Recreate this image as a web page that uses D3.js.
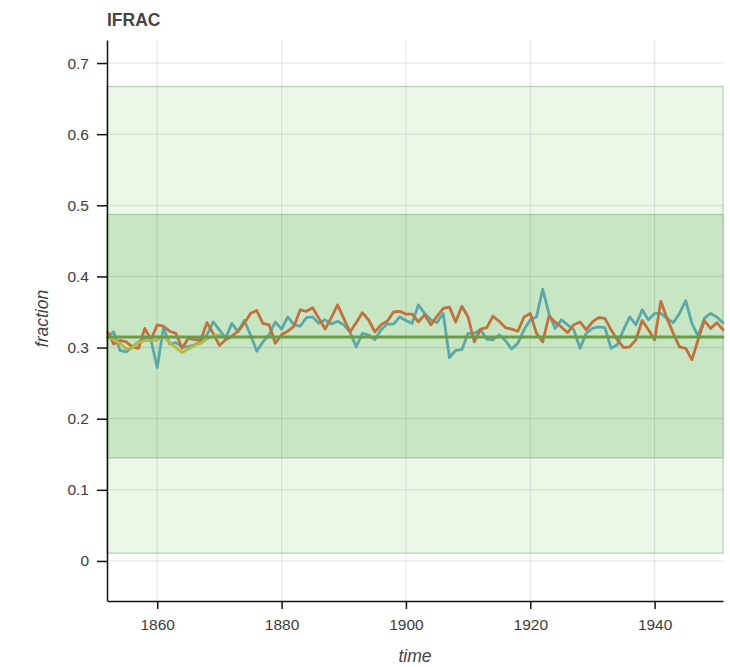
<!DOCTYPE html>
<html>
<head>
<meta charset="utf-8">
<script src="https://cdn.jsdelivr.net/npm/d3@7"></script>
<style>
  html, body { margin: 0; padding: 0; background: #fff; }
  svg { display: block; font-family: "Liberation Sans", Arial, Helvetica, sans-serif; }
</style>
</head>
<body>
<svg id="chart" width="730" height="667"></svg>
<script>
// Annual ice fraction, 1852–1951
const years = d3.range(1852, 1952);

const seriesTeal = [
  0.315, 0.322, 0.296, 0.294, 0.301, 0.308, 0.312, 0.310, 0.272, 0.328,
  0.305, 0.307, 0.301, 0.301, 0.304, 0.308, 0.318, 0.336, 0.325, 0.313,
  0.334, 0.322, 0.338, 0.318, 0.295, 0.308, 0.318, 0.336, 0.326, 0.343,
  0.332, 0.330, 0.342, 0.343, 0.334, 0.339, 0.333, 0.337, 0.332, 0.322,
  0.301, 0.320, 0.318, 0.311, 0.325, 0.333, 0.333, 0.343, 0.338, 0.334,
  0.360, 0.348, 0.339, 0.335, 0.348, 0.286, 0.296, 0.297, 0.320, 0.320,
  0.325, 0.312, 0.311, 0.318, 0.310, 0.298, 0.306, 0.325, 0.339, 0.343,
  0.382, 0.348, 0.327, 0.339, 0.332, 0.325, 0.299, 0.320, 0.327, 0.329,
  0.328, 0.299, 0.304, 0.325, 0.343, 0.332, 0.353, 0.339, 0.348, 0.348,
  0.341, 0.335, 0.348, 0.366, 0.334, 0.316, 0.341, 0.348, 0.343, 0.335
];

const seriesOrange = [
  0.322, 0.305, 0.310, 0.308, 0.301, 0.299, 0.327, 0.311, 0.332, 0.330,
  0.323, 0.320, 0.299, 0.313, 0.311, 0.311, 0.335, 0.320, 0.303, 0.311,
  0.316, 0.323, 0.334, 0.348, 0.352, 0.334, 0.332, 0.306, 0.318, 0.323,
  0.330, 0.353, 0.351, 0.356, 0.341, 0.326, 0.342, 0.360, 0.341, 0.322,
  0.335, 0.349, 0.339, 0.322, 0.332, 0.337, 0.350, 0.351, 0.347, 0.347,
  0.336, 0.346, 0.332, 0.344, 0.355, 0.357, 0.336, 0.358, 0.343, 0.308,
  0.326, 0.328, 0.344, 0.337, 0.328, 0.326, 0.323, 0.343, 0.348, 0.320,
  0.308, 0.344, 0.336, 0.329, 0.321, 0.332, 0.336, 0.325, 0.336, 0.342,
  0.341, 0.325, 0.311, 0.300, 0.301, 0.311, 0.338, 0.325, 0.311, 0.365,
  0.341, 0.320, 0.301, 0.299, 0.283, 0.311, 0.338, 0.327, 0.335, 0.325
];

// Short early record, 1852–1870
const seriesYellow = [
  0.315, 0.311, 0.306, 0.298, 0.300, 0.307, 0.310, 0.310, 0.310, 0.316,
  0.307, 0.300, 0.293, 0.298, 0.303, 0.306, 0.312, 0.316, 0.318
];

const meanValue = 0.315;
const outerBand = [0.011, 0.667];
const innerBand = [0.145, 0.487];

const xTicks = [1860, 1880, 1900, 1920, 1940];
const yTicks = [0, 0.1, 0.2, 0.3, 0.4, 0.5, 0.6, 0.7];

const plotLeft = 107, plotRight = 723, plotTop = 40, plotBottom = 601;

const svg = d3.select("#chart");

const x = d3.scaleLinear().domain([1852, 1951]).range([plotLeft + 0.5, plotRight]);
const y = d3.scaleLinear().domain([-0.0563, 0.7324]).range([plotBottom, plotTop]);

// Shaded ranges
const bands = svg.append("g");
bands.append("rect")
  .attr("x", plotLeft).attr("width", plotRight - plotLeft)
  .attr("y", y(outerBand[1])).attr("height", y(outerBand[0]) - y(outerBand[1]))
  .attr("fill", "#ebf8e8").attr("stroke", "#b9c9b7").attr("stroke-width", 1.2);
bands.append("rect")
  .attr("x", plotLeft).attr("width", plotRight - plotLeft)
  .attr("y", y(innerBand[1])).attr("height", y(innerBand[0]) - y(innerBand[1]))
  .attr("fill", "#c8e6c3").attr("stroke", "#a6c2a2").attr("stroke-width", 1.2);

// Grid
const grid = svg.append("g").attr("stroke", "#000").attr("stroke-opacity", 0.09).attr("stroke-width", 1.2);
grid.selectAll("line.gx").data(xTicks).join("line")
  .attr("x1", d => x(d)).attr("x2", d => x(d))
  .attr("y1", plotTop).attr("y2", plotBottom);
grid.selectAll("line.gy").data(yTicks).join("line")
  .attr("x1", plotLeft).attr("x2", plotRight)
  .attr("y1", d => y(d)).attr("y2", d => y(d));

// Series
const line = d3.line()
  .x(d => x(d[0]))
  .y(d => y(d[1]));

const plot = svg.append("g").attr("fill", "none")
  .attr("stroke-linejoin", "round").attr("stroke-linecap", "round");

plot.append("path")
  .datum(years.map((yr, i) => [yr, seriesTeal[i]]))
  .attr("d", line).attr("stroke", "#5aa9a8").attr("stroke-width", 2.8);
plot.append("path")
  .datum(years.map((yr, i) => [yr, seriesOrange[i]]))
  .attr("d", line).attr("stroke", "#c0713d").attr("stroke-width", 2.8);
plot.append("path")
  .datum(seriesYellow.map((v, i) => [years[i], v]))
  .attr("d", line).attr("stroke", "#b9b944").attr("stroke-width", 2.8);
plot.append("path")
  .datum([[1852, meanValue], [1951, meanValue]])
  .attr("d", line).attr("stroke", "#6b9a49").attr("stroke-width", 3);

// Axes
const xAxis = svg.append("g")
  .attr("transform", `translate(0,${plotBottom})`)
  .call(d3.axisBottom(x).tickValues(xTicks).tickFormat(d3.format("d")).tickSize(8).tickPadding(10).tickSizeOuter(0));
const yAxis = svg.append("g")
  .attr("transform", `translate(${plotLeft},0)`)
  .call(d3.axisLeft(y).tickValues(yTicks).tickFormat(d => d === 0 ? "0" : d3.format(".1f")(d)).tickSize(10).tickPadding(8).tickSizeOuter(0));

[xAxis, yAxis].forEach(g => {
  g.select(".domain").attr("stroke", "#111").attr("stroke-width", 1.5);
  g.selectAll(".tick line").attr("stroke", "#111").attr("stroke-width", 1.5);
  g.selectAll(".tick text").attr("fill", "#3c3c3c").attr("font-size", 15.5)
    .attr("font-family", "'Liberation Sans', Arial, sans-serif");
});

// Titles
svg.append("text")
  .attr("x", plotLeft).attr("y", 26)
  .attr("font-size", 17.5).attr("font-weight", "bold").attr("fill", "#444")
  .text("IFRAC");

svg.append("text")
  .attr("transform", `translate(48,${(plotTop + plotBottom) / 2 - 2}) rotate(-90)`)
  .attr("text-anchor", "middle")
  .attr("font-size", 17.5).attr("font-style", "italic").attr("fill", "#444")
  .text("fraction");

svg.append("text")
  .attr("x", (plotLeft + plotRight) / 2).attr("y", 662)
  .attr("text-anchor", "middle")
  .attr("font-size", 17.5).attr("font-style", "italic").attr("fill", "#444")
  .text("time");
</script>
</body>
</html>
